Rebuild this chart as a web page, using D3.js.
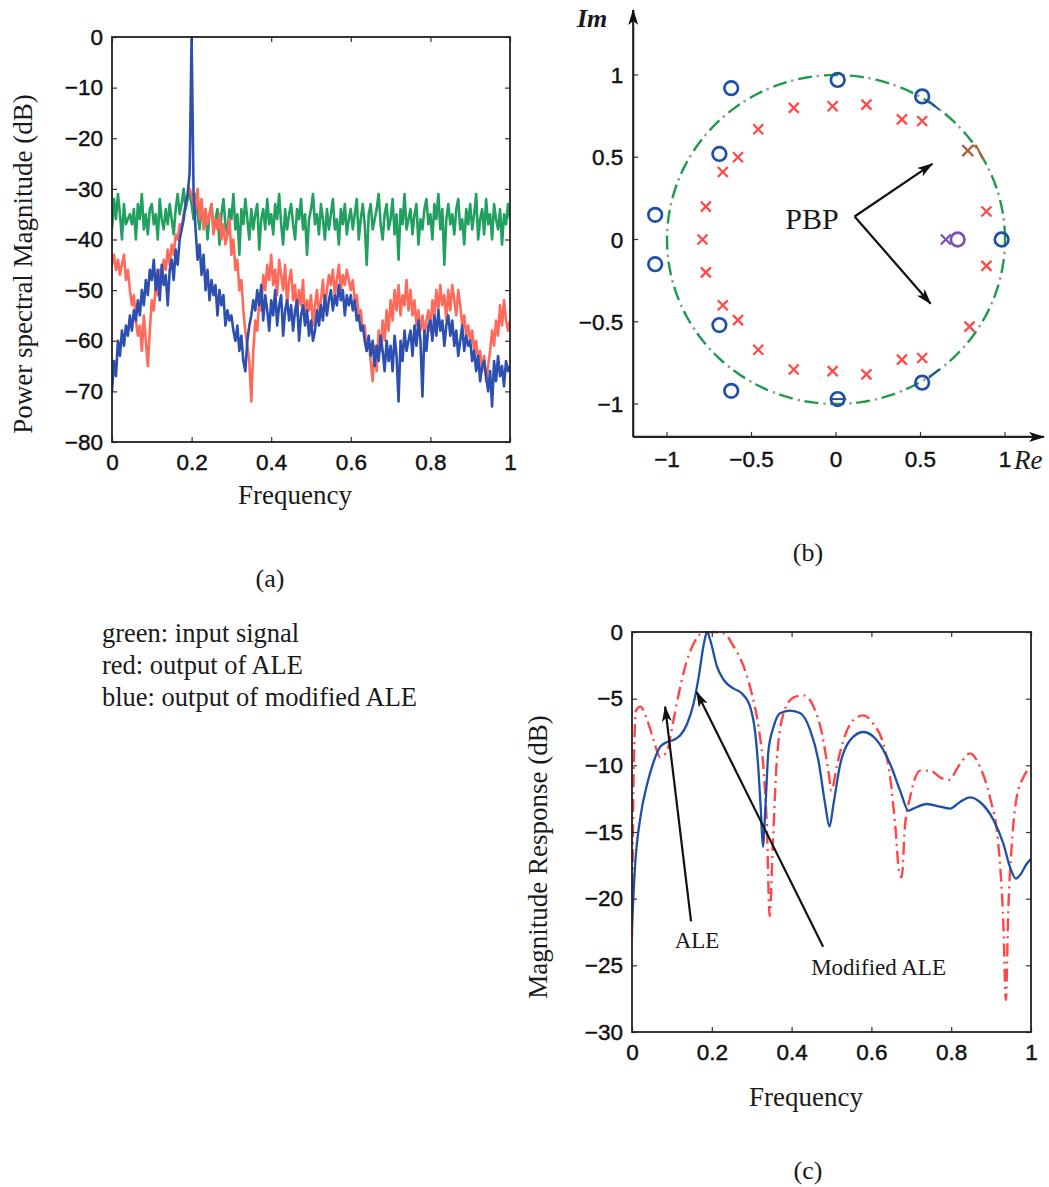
<!DOCTYPE html>
<html>
<head>
<meta charset="utf-8">
<script src="https://cdn.jsdelivr.net/npm/d3@7"></script>
<style>
  body { margin: 0; background: #fff; }
</style>
</head>
<body>
<svg id="fig" width="1049" height="1187"></svg>
<script>
// ---- panel (a): power spectra, one value every 0.005 of frequency ----
const freqStep = 0.005;
const inputPsd = [
  -38,-32,-36,-31,-35,-40,-33,-37,-36,-35, -37,-34,-40,-33,-36,-31,-38,-35,-39,-34,
  -33,-37,-35,-40,-32,-36,-38,-34,-37,-33, -36,-39,-34,-31,-35,-33,-30,-34,-32,-31,
  -33,-36,-31,-35,-38,-33,-37,-34,-40,-35, -33,-38,-36,-34,-41,-35,-32,-37,-39,-34,
  -36,-31,-38,-35,-43,-34,-37,-32,-36,-40, -34,-38,-35,-33,-42,-36,-34,-38,-32,-37,
  -35,-39,-33,-36,-31,-37,-41,-34,-38,-35, -33,-37,-40,-34,-36,-32,-38,-35,-43,-36,
  -34,-31,-37,-35,-39,-33,-36,-40,-34,-38, -35,-32,-38,-36,-41,-34,-37,-33,-39,-36,
  -34,-38,-35,-32,-40,-36,-33,-37,-45,-35, -33,-38,-36,-34,-31,-37,-40,-35,-33,-38,
  -36,-32,-39,-35,-44,-34,-37,-31,-38,-36, -34,-39,-35,-33,-41,-36,-38,-34,-32,-37,
  -35,-40,-33,-36,-31,-38,-34,-45,-36,-33, -37,-35,-39,-34,-32,-38,-36,-41,-34,-37,
  -33,-38,-35,-31,-40,-36,-34,-39,-32,-37, -35,-40,-33,-36,-38,-34,-41,-35,-37,-33,
  -36
];
const alePsd = [
  -45,-43,-46,-44,-47,-45,-43,-48,-46,-50, -53,-51,-56,-59,-57,-62,-55,-60,-65,-58,
  -52,-54,-49,-51,-46,-48,-44,-46,-42,-45, -41,-43,-39,-40,-37,-38,-35,-33,-31,-30,
  -31,-33,-34,-30,-36,-32,-38,-34,-37,-35, -33,-39,-36,-38,-35,-40,-37,-41,-39,-36,
  -43,-40,-46,-44,-50,-48,-54,-58,-61,-64, -72,-62,-56,-58,-52,-54,-47,-50,-45,-48,
  -43,-49,-46,-51,-44,-47,-50,-45,-53,-48, -46,-52,-49,-55,-50,-53,-48,-56,-52,-54,
  -51,-57,-53,-50,-55,-52,-48,-54,-50,-47, -49,-46,-51,-48,-45,-50,-47,-49,-46,-48,
  -50,-48,-52,-51,-55,-54,-58,-57,-62,-60, -64,-68,-61,-66,-58,-62,-56,-60,-54,-58,
  -52,-56,-50,-54,-49,-55,-51,-53,-48,-54, -50,-55,-52,-57,-54,-58,-55,-59,-56,-54,
  -58,-52,-55,-50,-54,-49,-53,-51,-56,-50, -54,-49,-52,-55,-50,-53,-57,-55,-59,-57,
  -60,-58,-62,-60,-64,-62,-66,-63,-68,-65, -62,-58,-61,-56,-59,-53,-57,-52,-56,-58,
  -56
];
const modAlePsd = [
  -70,-64,-67,-60,-63,-58,-61,-57,-59,-55, -58,-54,-56,-52,-55,-50,-53,-48,-51,-46,
  -48,-44,-50,-46,-52,-45,-49,-47,-53,-46, -44,-48,-42,-45,-40,-38,-36,-33,-31,-27,
  0,-31,-38,-44,-41,-47,-43,-50,-46,-52, -48,-51,-49,-55,-50,-53,-51,-57,-54,-56,
  -55,-58,-60,-57,-62,-59,-64,-66,-60,-57, -55,-52,-54,-50,-53,-49,-56,-51,-54,-58,
  -52,-55,-50,-57,-53,-51,-59,-54,-52,-56, -53,-58,-54,-52,-60,-55,-53,-57,-54,-59,
  -56,-60,-58,-54,-57,-53,-56,-51,-55,-52, -50,-54,-51,-53,-49,-52,-50,-55,-51,-53,
  -51,-54,-52,-56,-55,-58,-57,-60,-62,-59, -63,-60,-65,-61,-64,-59,-62,-66,-60,-64,
  -61,-66,-59,-63,-72,-60,-64,-58,-62,-60, -58,-63,-57,-61,-56,-60,-71,-58,-62,-57,
  -56,-60,-55,-59,-54,-58,-56,-61,-57,-55, -59,-56,-61,-58,-63,-60,-57,-62,-59,-61,
  -60,-64,-62,-66,-63,-68,-65,-64,-67,-70, -66,-73,-64,-68,-63,-67,-65,-69,-64,-66,
  -65
];
const psdXTicks = [0, 0.2, 0.4, 0.6, 0.8, 1];
const psdYTicks = [0, -10, -20, -30, -40, -50, -60, -70, -80];

// ---- panel (b): pole-zero map ----
const zerosBlue = [
  [-0.62, 0.92], [0.01, 0.97], [0.51, 0.87], [-0.69, 0.52], [-1.07, 0.15],
  [-1.07, -0.15], [-0.69, -0.52], [-0.62, -0.92], [0.01, -0.97], [0.51, -0.87], [0.98, 0]
];
const polesRed = [
  [-0.25, 0.80], [-0.02, 0.81], [0.18, 0.82], [0.39, 0.73], [0.51, 0.72],
  [-0.46, 0.67], [-0.58, 0.50], [-0.67, 0.41], [-0.77, 0.20], [-0.79, 0],
  [-0.77, -0.20], [-0.67, -0.40], [-0.58, -0.49], [-0.46, -0.67], [-0.25, -0.79],
  [-0.02, -0.80], [0.18, -0.82], [0.39, -0.73], [0.51, -0.72],
  [0.89, 0.17], [0.89, -0.16], [0.79, -0.53]
];
const zeroPurple = [[0.72, 0]];
const polePurple = [[0.65, 0]];
const poleBrown = [[0.78, 0.54]];
const zeroTails = [[0.55, 0.84, 0.61, 0.79], [0.55, -0.84, 0.61, -0.79], [-0.03, -0.97, 0.06, -0.97]];
const brownTail = [[0.81, 0.57], [0.83, 0.57], [0.87, 0.49]];
const pbpArrows = [[0.11, 0.14, 0.57, 0.46], [0.11, 0.14, 0.56, -0.39]];
const pzTicks = [-1, -0.5, 0, 0.5, 1];

// ---- panel (c): magnitude responses ----
const modFreq = [0, 0.008, 0.021, 0.038, 0.054, 0.071, 0.088, 0.104, 0.121, 0.138, 0.154, 0.167,
  0.18, 0.188, 0.196, 0.213, 0.23, 0.255, 0.275, 0.296, 0.309, 0.317, 0.323, 0.328, 0.334,
  0.342, 0.355, 0.371, 0.396, 0.422, 0.447, 0.467, 0.484, 0.495, 0.505, 0.522, 0.547, 0.58,
  0.613, 0.647, 0.672, 0.693, 0.705, 0.739, 0.772, 0.797, 0.822, 0.847, 0.872, 0.906, 0.931,
  0.947, 0.962, 0.972, 0.989, 1];
const modMag = [-22.1, -17.4, -13.9, -11.4, -9.75, -8.6, -8.25, -8.1, -7.75, -6.9, -5.4, -3.4,
  -0.9, 0, -0.6, -2.6, -3.6, -4.25, -4.6, -5.6, -7.6, -10.4, -13.4, -16.1, -13.4,
  -8.9, -7.1, -6.1, -5.9, -6.1, -7.4, -9.6, -12.9, -14.6, -12.9, -9.9, -8.1, -7.5,
  -8.1, -9.9, -11.9, -13.4, -13.25, -12.9, -13.1, -13.25, -12.75, -12.4, -12.75, -14.1, -15.9,
  -17.6, -18.5, -18.25, -17.4, -17.0];
const aleFreq = [0, 0.004, 0.01, 0.021, 0.038, 0.054, 0.071, 0.088, 0.104, 0.121, 0.138, 0.154,
  0.175, 0.205, 0.23, 0.255, 0.28, 0.3, 0.317, 0.33, 0.338, 0.345, 0.353, 0.363, 0.38, 0.405,
  0.43, 0.455, 0.476, 0.492, 0.5, 0.513, 0.53, 0.555, 0.58, 0.605, 0.63, 0.647, 0.66, 0.67,
  0.676, 0.684, 0.697, 0.722, 0.747, 0.772, 0.793, 0.822, 0.847, 0.872, 0.897, 0.918, 0.931,
  0.937, 0.943, 0.952, 0.964, 0.981, 0.997];
const aleMag = [-22.9, -10.9, -5.9, -5.6, -6.6, -8.1, -9.4, -8.9, -6.6, -4.1, -2.1, -0.9,
  -0.1, 0, -0.1, -1.1, -2.6, -4.6, -7.1, -10.4, -14.6, -21.3, -15.9, -9.6, -6.1, -4.9,
  -4.75, -5.6, -7.6, -10.4, -11.9, -10.1, -8.1, -6.6, -6.25, -6.9, -8.4, -10.9, -14.6, -18.1,
  -18.4, -14.6, -12.4, -10.4, -10.4, -10.9, -11.1, -9.9, -9.1, -10.1, -12.4, -15.9, -22.1,
  -27.6, -20.9, -15.9, -12.4, -10.9, -10.1];
const magXTicks = [0, 0.2, 0.4, 0.6, 0.8, 1];
const magYTicks = [0, -5, -10, -15, -20, -25, -30];
const magArrows = [
  { text: 'ALE', from: [0.148, -21.7], to: [0.083, -5.6], label: [0.163, -23.7] },
  { text: 'Modified ALE', from: [0.479, -23.6], to: [0.162, -4.5], label: [0.618, -25.7] }
];

const legendLines = ['green: input signal', 'red: output of ALE', 'blue: output of modified ALE'];

const sans = '"Liberation Sans", Arial, Helvetica, sans-serif';
const serif = '"Liberation Serif", "Times New Roman", Times, serif';
const fmt = d3.format('');

const svg = d3.select('#fig');
const defs = svg.append('defs');
defs.append('marker')
  .attr('id', 'head')
  .attr('viewBox', '0 0 16 10')
  .attr('refX', 15).attr('refY', 5)
  .attr('markerWidth', 16).attr('markerHeight', 10)
  .attr('markerUnits', 'userSpaceOnUse')
  .attr('orient', 'auto')
  .append('path')
  .attr('d', 'M0,0 L16,5 L0,10 L4,5 Z')
  .attr('fill', '#111');

// tick labels look a little heavy in the scan
function tickText(sel) {
  sel.attr('font-family', sans).attr('font-size', 22.5).attr('fill', '#111')
    .attr('stroke', '#111').attr('stroke-width', 0.45);
}

// MATLAB style box with inward ticks on all four sides
function framedAxes(g, x, y, xTicks, yTicks) {
  const [x0, x1] = x.range();
  const [yb, yt] = y.range();
  const styleAxis = (sel) => {
    sel.select('.domain').remove();
    sel.selectAll('.tick line').attr('stroke', '#333').attr('stroke-width', 1.2);
    sel.selectAll('text').call(tickText);
  };
  g.append('g').attr('transform', `translate(0,${yb})`)
    .call(d3.axisBottom(x).tickValues(xTicks).tickSizeInner(-5).tickSizeOuter(0).tickPadding(12).tickFormat(fmt))
    .call(styleAxis);
  g.append('g').attr('transform', `translate(0,${yt})`)
    .call(d3.axisTop(x).tickValues(xTicks).tickSizeInner(-5).tickSizeOuter(0).tickFormat(''))
    .call(styleAxis);
  g.append('g').attr('transform', `translate(${x0},0)`)
    .call(d3.axisLeft(y).tickValues(yTicks).tickSizeInner(-5).tickSizeOuter(0).tickPadding(9).tickFormat(fmt))
    .call(styleAxis);
  g.append('g').attr('transform', `translate(${x1},0)`)
    .call(d3.axisRight(y).tickValues(yTicks).tickSizeInner(-5).tickSizeOuter(0).tickFormat(''))
    .call(styleAxis);
  g.append('rect')
    .attr('x', x0).attr('y', yt).attr('width', x1 - x0).attr('height', yb - yt)
    .attr('fill', 'none').attr('stroke', '#222').attr('stroke-width', 1.8);
}

function serifText(g, x, y, txt, size, anchor = 'middle') {
  return g.append('text').attr('x', x).attr('y', y)
    .attr('font-family', serif).attr('font-size', size)
    .attr('text-anchor', anchor).attr('fill', '#1a1a1a').text(txt);
}

////// PANEL (a) //////
const ga = svg.append('g');
const xa = d3.scaleLinear().domain([0, 1]).range([112, 510]);
const ya = d3.scaleLinear().domain([-80, 0]).range([442, 37]);
defs.append('clipPath').attr('id', 'clipA').append('rect')
  .attr('x', 112).attr('y', 36).attr('width', 398).attr('height', 406);

const psdLine = d3.line().x((d, i) => xa(i * freqStep)).y((d) => ya(d));
const spectra = [
  { values: inputPsd, color: '#22a060' },
  { values: alePsd, color: '#ff6a5a' },
  { values: modAlePsd, color: '#2d4fb0' }
];
ga.append('g').attr('clip-path', 'url(#clipA)')
  .selectAll('path')
  .data(spectra)
  .join('path')
  .attr('d', (d) => psdLine(d.values))
  .attr('fill', 'none')
  .attr('stroke', (d) => d.color)
  .attr('stroke-width', 2.6)
  .attr('stroke-linejoin', 'round');

framedAxes(ga, xa, ya, psdXTicks, psdYTicks);
serifText(ga, 295, 504, 'Frequency', 27);
serifText(ga, 0, 0, 'Power spectral Magnitude (dB)', 27)
  .attr('transform', 'translate(32,264) rotate(-90)');
serifText(ga, 270, 587, '(a)', 26);

// legend notes
ga.selectAll('.note')
  .data(legendLines)
  .join('text')
  .attr('class', 'note')
  .attr('x', 102)
  .attr('y', (d, i) => 642 + i * 32)
  .attr('font-family', serif)
  .attr('font-size', 26.5)
  .attr('fill', '#1a1a1a')
  .text((d) => d);

////// PANEL (b) //////
const gb = svg.append('g');
const xb = d3.scaleLinear().domain([-1, 1]).range([667, 1005]);
const yb = d3.scaleLinear().domain([-1, 1]).range([404, 75]);
const axX = xb(-1.2);
const axY = yb(-1.2);

// unit circle: green dashes with grey dots between
const circ = d3.range(0, 361, 2).map((a) => [Math.cos(a * Math.PI / 180), Math.sin(a * Math.PI / 180)]);
const pzLine = d3.line().x((d) => xb(d[0])).y((d) => yb(d[1]));
gb.append('path').attr('d', pzLine(circ))
  .attr('fill', 'none').attr('stroke', '#1e9a4a').attr('stroke-width', 2.4)
  .attr('stroke-dasharray', '14 12');
gb.append('path').attr('d', pzLine(circ))
  .attr('fill', 'none').attr('stroke', '#9a9a9a').attr('stroke-width', 2.5)
  .attr('stroke-dasharray', '2.5 23.5').attr('stroke-dashoffset', -19);

// axes with arrows
gb.append('line').attr('x1', axX).attr('y1', axY).attr('x2', axX).attr('y2', 10)
  .attr('stroke', '#222').attr('stroke-width', 2.2).attr('marker-end', 'url(#head)');
gb.append('line').attr('x1', axX).attr('y1', axY).attr('x2', 1044).attr('y2', axY)
  .attr('stroke', '#222').attr('stroke-width', 2.2).attr('marker-end', 'url(#head)');

gb.selectAll('.xt').data(pzTicks).join('line').attr('class', 'xt')
  .attr('x1', (d) => xb(d)).attr('x2', (d) => xb(d))
  .attr('y1', axY).attr('y2', axY - 5).attr('stroke', '#333').attr('stroke-width', 1.2);
gb.selectAll('.yt').data(pzTicks).join('line').attr('class', 'yt')
  .attr('y1', (d) => yb(d)).attr('y2', (d) => yb(d))
  .attr('x1', axX).attr('x2', axX + 5).attr('stroke', '#333').attr('stroke-width', 1.2);
gb.selectAll('.xl').data(pzTicks).join('text').attr('class', 'xl')
  .attr('x', (d) => xb(d)).attr('y', axY + 30)
  .attr('text-anchor', 'middle').call(tickText)
  .text((d) => fmt(d));
gb.selectAll('.yl').data(pzTicks).join('text').attr('class', 'yl')
  .attr('x', axX - 10).attr('y', (d) => yb(d) + 8)
  .attr('text-anchor', 'end').call(tickText)
  .text((d) => fmt(d));

gb.append('text').attr('x', 577).attr('y', 27)
  .attr('font-family', serif).attr('font-style', 'italic').attr('font-weight', 'bold')
  .attr('font-size', 26).attr('fill', '#1a1a1a').text('Im');
gb.append('text').attr('x', 1014).attr('y', 469)
  .attr('font-family', serif).attr('font-style', 'italic')
  .attr('font-size', 27).attr('fill', '#1a1a1a').text('Re');

// tails
gb.selectAll('.tail').data(zeroTails).join('line').attr('class', 'tail')
  .attr('x1', (d) => xb(d[0])).attr('y1', (d) => yb(d[1]))
  .attr('x2', (d) => xb(d[2])).attr('y2', (d) => yb(d[3]))
  .attr('stroke', '#2552a8').attr('stroke-width', 2);
gb.append('path').attr('d', pzLine(brownTail))
  .attr('fill', 'none').attr('stroke', '#b0603e').attr('stroke-width', 2.2);

function drawZeros(data, color) {
  gb.append('g').selectAll('circle').data(data).join('circle')
    .attr('cx', (d) => xb(d[0])).attr('cy', (d) => yb(d[1])).attr('r', 6.8)
    .attr('fill', 'none').attr('stroke', color).attr('stroke-width', 2.7);
}
function drawPoles(data, color, s) {
  gb.append('g').selectAll('path').data(data).join('path')
    .attr('d', (d) => {
      const cx = xb(d[0]), cy = yb(d[1]);
      return `M${cx - s},${cy - s}L${cx + s},${cy + s}M${cx - s},${cy + s}L${cx + s},${cy - s}`;
    })
    .attr('stroke', color).attr('stroke-width', 2.3).attr('fill', 'none');
}
drawZeros(zerosBlue, '#1f4fa8');
drawPoles(polesRed, '#ff4a4a', 5);
drawPoles(poleBrown, '#b0603e', 5.5);
drawPoles(polePurple, '#7b52b4', 5);
drawZeros(zeroPurple, '#7b52b4');

serifText(gb, 812, 229, 'PBP', 30);
gb.selectAll('.pbp').data(pbpArrows).join('line').attr('class', 'pbp')
  .attr('x1', (d) => xb(d[0])).attr('y1', (d) => yb(d[1]))
  .attr('x2', (d) => xb(d[2])).attr('y2', (d) => yb(d[3]))
  .attr('stroke', '#111').attr('stroke-width', 2.2).attr('marker-end', 'url(#head)');
serifText(gb, 808, 561, '(b)', 26);

////// PANEL (c) //////
const gc = svg.append('g');
const xc = d3.scaleLinear().domain([0, 1]).range([632, 1031]);
const yc = d3.scaleLinear().domain([-30, 0]).range([1032, 632]);
defs.append('clipPath').attr('id', 'clipC').append('rect')
  .attr('x', 632).attr('y', 630).attr('width', 399).attr('height', 402);

const magLine = d3.line().curve(d3.curveMonotoneX);
const plotC = gc.append('g').attr('clip-path', 'url(#clipC)');
plotC.append('path')
  .attr('d', magLine(aleFreq.map((f, i) => [xc(f), yc(aleMag[i])])))
  .attr('fill', 'none').attr('stroke', '#ff4646').attr('stroke-width', 2.4)
  .attr('stroke-dasharray', '13 5 2 5');
plotC.append('path')
  .attr('d', magLine(modFreq.map((f, i) => [xc(f), yc(modMag[i])])))
  .attr('fill', 'none').attr('stroke', '#1f4fa6').attr('stroke-width', 2.3);

framedAxes(gc, xc, yc, magXTicks, magYTicks);

gc.selectAll('.ann').data(magArrows).join('line').attr('class', 'ann')
  .attr('x1', (d) => xc(d.from[0])).attr('y1', (d) => yc(d.from[1]))
  .attr('x2', (d) => xc(d.to[0])).attr('y2', (d) => yc(d.to[1]))
  .attr('stroke', '#111').attr('stroke-width', 2.2).attr('marker-end', 'url(#head)');
gc.selectAll('.annt').data(magArrows).join('text').attr('class', 'annt')
  .attr('x', (d) => xc(d.label[0])).attr('y', (d) => yc(d.label[1]))
  .attr('text-anchor', 'middle').attr('font-family', serif).attr('font-size', 23)
  .attr('fill', '#1a1a1a').text((d) => d.text);

serifText(gc, 806, 1106, 'Frequency', 27);
serifText(gc, 0, 0, 'Magnitude Response (dB)', 27)
  .attr('transform', 'translate(547,857) rotate(-90)');
serifText(gc, 808, 1179, '(c)', 26);
</script>
</body>
</html>
